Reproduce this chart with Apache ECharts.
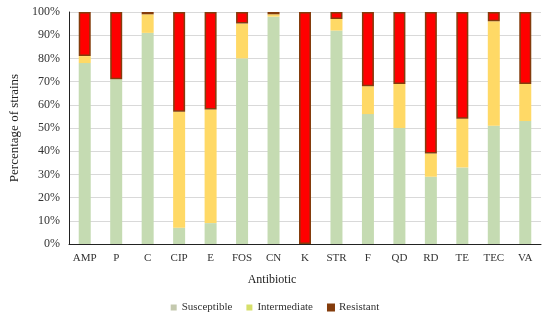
<!DOCTYPE html>
<html><head><meta charset="utf-8">
<script src="https://cdn.jsdelivr.net/npm/echarts@6/dist/echarts.min.js"></script>
<style>html,body{margin:0;padding:0;background:#fff}#c{width:550px;height:320px}</style>
</head><body><div id="c"></div>
<script>
var categories = ['AMP','P','C','CIP','E','FOS','CN','K','STR','F','QD','RD','TE','TEC','VA'];
var susceptible = [78, 71, 91, 7, 9, 80, 98, 0, 92, 56, 50, 29, 33, 51, 53];
var intermediate = [3, 0, 8, 50, 49, 15, 1, 0, 5, 12, 19, 10, 21, 45, 16];
var resistant = [19, 29, 1, 43, 42, 5, 1, 100, 3, 32, 31, 61, 46, 4, 31];
var yTicks = [0,10,20,30,40,50,60,70,80,90,100];

var font = 'Liberation Serif';
var chart = echarts.init(document.getElementById('c'));
chart.setOption({
  animation: false,
  textStyle: {fontFamily: font},
  grid: {left: 61, right: 9, top: 12, bottom: 76},
  legend: {
    bottom: 2, left: 'center', itemWidth: 6, itemHeight: 6, itemGap: 14,
    textStyle: {fontFamily: font, fontSize: 11, color: '#333'},
    data: [
      {name: 'Susceptible', icon: 'rect', itemStyle: {color: '#c4c9ae'}},
      {name: 'Intermediate', icon: 'rect', itemStyle: {color: '#d6df6a'}},
      {name: 'Resistant', icon: 'rect', itemStyle: {color: '#843c0c'}}
    ]
  },
  xAxis: {
    type: 'category', data: categories,
    name: 'Antibiotic', nameLocation: 'middle', nameGap: 30,
    nameTextStyle: {fontFamily: font, fontSize: 12, color: '#222', padding: [0, 66, 0, 0]},
    axisLine: {lineStyle: {color: '#222', width: 1}},
    axisTick: {show: false},
    axisLabel: {fontFamily: font, fontSize: 11, color: '#333', margin: 9}
  },
  yAxis: {
    type: 'value', min: 0, max: 100, interval: 10,
    name: 'Percentage of strains', nameLocation: 'middle', nameGap: 48,
    nameTextStyle: {fontFamily: font, fontSize: 13, color: '#222'},
    axisLine: {show: true, lineStyle: {color: '#222', width: 1}},
    axisTick: {show: false},
    splitLine: {lineStyle: {color: '#d9d9d9'}},
    axisLabel: {fontFamily: font, fontSize: 12, color: '#333', margin: 9,
      formatter: function(v){ return yTicks.indexOf(v) >= 0 ? v + '%' : ''; }}
  },
  series: [
    {name: 'Susceptible', type: 'bar', stack: 's', data: susceptible, barWidth: 12,
     itemStyle: {color: '#c5dbb2'}},
    {name: 'Intermediate', type: 'bar', stack: 's', data: intermediate, barWidth: 12,
     itemStyle: {color: '#ffd966'}},
    {name: 'Resistant', type: 'bar', stack: 's', data: resistant, barWidth: 12,
     itemStyle: {color: '#ff0000', borderColor: '#843c0c', borderWidth: 1.5}}
  ]
});
</script></body></html>
